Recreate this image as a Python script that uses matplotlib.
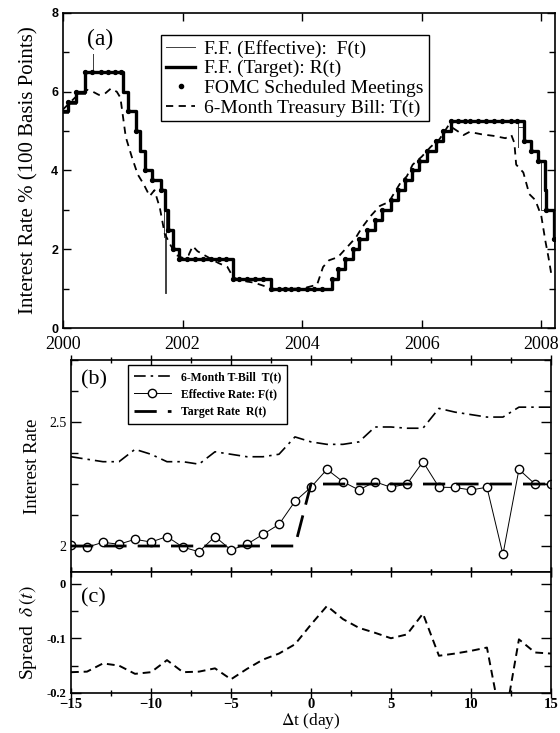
import numpy as np
import pandas as pd
import matplotlib
matplotlib.use('Agg')
import matplotlib.pyplot as plt
from matplotlib.lines import Line2D
from matplotlib.ticker import MultipleLocator

plt.rcParams['font.family'] = ['Liberation Serif', 'DejaVu Serif']
plt.rcParams['mathtext.fontset'] = 'stix'

# ---- panel (a): fed funds target, effective, FOMC meetings, 6-month T-bill
tgt_dates = ['2000-01-01', '2000-02-02', '2000-03-21', '2000-05-16', '2001-01-03',
             '2001-01-31', '2001-03-20', '2001-04-18', '2001-05-15', '2001-06-27',
             '2001-08-21', '2001-09-17', '2001-10-02', '2001-11-06', '2001-12-11',
             '2002-11-06', '2003-06-25', '2004-06-30', '2004-08-10', '2004-09-21',
             '2004-11-10', '2004-12-14', '2005-02-02', '2005-03-22', '2005-05-03',
             '2005-06-30', '2005-08-09', '2005-09-20', '2005-11-01', '2005-12-13',
             '2006-01-31', '2006-03-28', '2006-05-10', '2006-06-29', '2007-09-18',
             '2007-10-31', '2007-12-11', '2008-01-22', '2008-01-30', '2008-03-18',
             '2008-03-24']
tgt_vals = [5.50, 5.75, 6.00, 6.50, 6.00, 5.50, 5.00, 4.50, 4.00, 3.75,
            3.50, 3.00, 2.50, 2.00, 1.75, 1.25, 1.00, 1.25, 1.50, 1.75,
            2.00, 2.25, 2.50, 2.75, 3.00, 3.25, 3.50, 3.75, 4.00, 4.25,
            4.50, 4.75, 5.00, 5.25, 4.75, 4.50, 4.25, 3.50, 3.00, 2.25,
            2.25]

eff_dates = ['2000-01-01', '2000-02-02', '2000-03-21', '2000-05-16', '2000-06-30',
             '2000-07-03', '2001-01-03', '2001-01-31', '2001-03-20', '2001-04-18',
             '2001-05-15', '2001-06-27', '2001-08-21', '2001-09-12', '2001-09-17',
             '2001-09-19', '2001-09-21', '2001-10-02', '2001-11-06', '2001-12-11',
             '2002-11-06', '2003-06-25', '2004-06-30', '2004-08-10', '2004-09-21',
             '2004-11-10', '2004-12-14', '2005-02-02', '2005-03-22', '2005-05-03',
             '2005-06-30', '2005-08-09', '2005-09-20', '2005-11-01', '2005-12-13',
             '2006-01-31', '2006-03-28', '2006-05-10', '2006-06-29', '2007-08-10',
             '2007-08-14', '2007-09-18', '2007-10-31', '2007-12-11', '2008-01-02',
             '2008-01-22', '2008-01-30', '2008-03-18', '2008-03-24']
eff_vals = [5.45, 5.70, 5.95, 6.50, 6.95, 6.50, 6.00, 5.50, 5.00, 4.50,
            4.00, 3.75, 3.50, 2.30, 0.90, 2.40, 3.00, 2.50, 2.00, 1.75,
            1.25, 1.00, 1.25, 1.50, 1.75, 2.00, 2.25, 2.50, 2.75, 3.00,
            3.25, 3.50, 3.75, 4.00, 4.25, 4.50, 4.75, 5.00, 5.25, 4.60,
            5.10, 4.75, 4.50, 4.25, 3.00, 3.50, 3.00, 2.00, 2.00]

fomc_dates = ['2000-02-02', '2000-03-21', '2000-05-16', '2000-06-28', '2000-08-22',
              '2000-10-03', '2000-11-15', '2000-12-19', '2001-01-31', '2001-03-20',
              '2001-05-15', '2001-06-27', '2001-08-21', '2001-10-02', '2001-11-06',
              '2001-12-11', '2002-01-30', '2002-03-19', '2002-05-07', '2002-06-26',
              '2002-08-13', '2002-09-24', '2002-11-06', '2002-12-10', '2003-01-29',
              '2003-03-18', '2003-05-06', '2003-06-25', '2003-08-12', '2003-09-16',
              '2003-10-28', '2003-12-09', '2004-01-28', '2004-03-16', '2004-05-04',
              '2004-06-30', '2004-08-10', '2004-09-21', '2004-11-10', '2004-12-14',
              '2005-02-02', '2005-03-22', '2005-05-03', '2005-06-30', '2005-08-09',
              '2005-09-20', '2005-11-01', '2005-12-13', '2006-01-31', '2006-03-28',
              '2006-05-10', '2006-06-29', '2006-08-08', '2006-09-20', '2006-10-25',
              '2006-12-12', '2007-01-31', '2007-03-21', '2007-05-09', '2007-06-28',
              '2007-08-07', '2007-09-18', '2007-10-31', '2007-12-11', '2008-01-30',
              '2008-03-18']

tbill_t = [2000.00, 2000.10, 2000.20, 2000.30, 2000.40, 2000.50, 2000.60, 2000.70,
           2000.80, 2000.90, 2000.96, 2001.05, 2001.15, 2001.25, 2001.35, 2001.45,
           2001.53, 2001.62, 2001.70, 2001.80, 2001.90, 2002.00, 2002.10, 2002.17,
           2002.25, 2002.40, 2002.60, 2002.75, 2002.85, 2003.00, 2003.20, 2003.40,
           2003.50, 2003.70, 2004.00, 2004.25, 2004.35, 2004.45, 2004.60, 2004.75,
           2004.90, 2005.00, 2005.15, 2005.30, 2005.45, 2005.55, 2005.65, 2005.75,
           2005.85, 2006.00, 2006.15, 2006.30, 2006.45, 2006.60, 2006.70, 2006.80,
           2007.00, 2007.20, 2007.40, 2007.50, 2007.55, 2007.58, 2007.70, 2007.80,
           2007.90, 2008.00, 2008.07, 2008.12, 2008.17]
tbill_v = [5.55, 5.70, 5.85, 5.95, 6.05, 6.00, 5.92, 5.95,
           6.08, 6.00, 5.85, 4.85, 4.35, 3.90, 3.65, 3.35,
           3.50, 3.05, 2.40, 2.10, 1.85, 1.78, 1.85, 2.08,
           1.95, 1.82, 1.65, 1.55, 1.28, 1.20, 1.15, 1.05,
           0.95, 1.00, 1.00, 1.10, 1.55, 1.72, 1.80, 2.05,
           2.30, 2.55, 2.85, 3.10, 3.20, 3.45, 3.70, 3.85,
           4.15, 4.35, 4.60, 4.80, 5.15, 5.00, 4.90, 4.98,
           4.92, 4.88, 4.82, 4.90, 4.70, 4.15, 3.95, 3.40,
           3.25, 2.85, 2.20, 1.80, 1.35]

# ---- panels (b), (c): event window around rate changes
dt_days = np.arange(-15, 16)
tbill_ev = [2.36, 2.35, 2.34, 2.34, 2.39, 2.37, 2.34, 2.34, 2.33, 2.38, 2.37,
            2.36, 2.36, 2.37, 2.44, 2.42, 2.41, 2.41, 2.42, 2.48, 2.48, 2.475,
            2.475, 2.555, 2.54, 2.53, 2.52, 2.52, 2.56, 2.56, 2.56]
eff_ev = [2.004, 1.995, 2.015, 2.007, 2.027, 2.016, 2.038, 1.995, 1.977, 2.038,
          1.984, 2.007, 2.047, 2.087, 2.18, 2.237, 2.309, 2.259, 2.226, 2.259,
          2.237, 2.25, 2.34, 2.237, 2.236, 2.226, 2.237, 1.966, 2.309, 2.25, 2.25]
target_ev = [2.0] * 15 + [2.25] * 16
spread_ev = [-0.162, -0.161, -0.146, -0.150, -0.165, -0.162, -0.140, -0.162,
             -0.161, -0.155, -0.175, -0.156, -0.139, -0.128, -0.111, -0.075,
             -0.041, -0.065, -0.081, -0.090, -0.100, -0.093, -0.055, -0.132,
             -0.128, -0.123, -0.117, -0.270, -0.102, -0.126, -0.128]


def decyear(dates):
    d = pd.to_datetime(pd.Series(dates))
    ndays = np.where(d.dt.is_leap_year, 366, 365)
    return (d.dt.year + (d.dt.dayofyear - 1) / ndays).values


tgt_x = decyear(tgt_dates)
eff_x = decyear(eff_dates)
fomc_x = decyear(fomc_dates)
fomc_y = np.array(tgt_vals)[np.searchsorted(tgt_x, fomc_x, side='right') - 1]

fig = plt.figure(figsize=(5.6, 7.33), dpi=100)
ax1 = fig.add_axes([0.1125, 0.5525, 0.8786, 0.4298])
ax2 = fig.add_axes([0.1268, 0.2196, 0.857, 0.2892])
ax3 = fig.add_axes([0.1268, 0.0546, 0.857, 0.1650])

# panel (a)
ax1.plot(eff_x, eff_vals, drawstyle='steps-post', color='0.25', lw=0.7)
ax1.plot(tgt_x, tgt_vals, drawstyle='steps-post', color='black', lw=2.4)
ax1.plot(fomc_x, fomc_y, 'o', color='black', ms=2.8, ls='none')
ax1.plot(tbill_t, tbill_v, color='black', lw=1.3, ls=(0, (4, 3)))
ax1.set_xlim(2000, 2008.23)
ax1.set_ylim(0, 8)
ax1.xaxis.set_major_locator(MultipleLocator(2))
ax1.yaxis.set_major_locator(MultipleLocator(2))
ax1.yaxis.set_minor_locator(MultipleLocator(1))
ax1.tick_params(which='both', direction='in', top=True, right=True)
ax1.tick_params(which='major', length=6, width=1)
ax1.tick_params(which='minor', length=4, width=1)
ax1.tick_params(axis='x', labelsize=13, pad=6)
for lab in ax1.get_yticklabels():
    lab.set_family('Liberation Sans')
    lab.set_fontweight('bold')
    lab.set_fontsize(9)
ax1.set_ylabel('Interest Rate % (100 Basis Points)', fontsize=15, labelpad=9)
ax1.text(0.048, 0.95, '(a)', transform=ax1.transAxes, fontsize=17, va='top')
hdl_a = [Line2D([], [], color='0.25', lw=0.7),
         Line2D([], [], color='black', lw=2.4),
         Line2D([], [], color='black', marker='o', ms=3, ls='none'),
         Line2D([], [], color='black', lw=1.3, ls=(0, (4, 3)))]
lab_a = ['F.F. (Effective):  F(t)', 'F.F. (Target): R(t)',
         'FOMC Scheduled Meetings', '6-Month Treasury Bill: T(t)']
leg = ax1.legend(hdl_a, lab_a, loc='upper left', bbox_to_anchor=(0.2, 0.93),
                 fontsize=14, frameon=True, fancybox=False, edgecolor='black',
                 framealpha=1, handlelength=1.5, handletextpad=0.45,
                 labelspacing=0.1, borderpad=0.25, borderaxespad=0)
leg.get_frame().set_linewidth(1)

# panel (b)
ax2.plot(dt_days, tbill_ev, color='black', lw=1.2, ls=(0, (7, 3, 1.5, 3)))
ax2.plot(dt_days, eff_ev, color='black', lw=0.7, marker='o', ms=6,
         mfc='white', mec='black', mew=1)
ax2.plot(dt_days, target_ev, color='black', lw=2, ls=(0, (8, 4)))
ax2.set_xlim(-15, 15)
ax2.set_ylim(1.895, 2.75)
ax2.xaxis.set_major_locator(MultipleLocator(5))
ax2.xaxis.set_minor_locator(MultipleLocator(2.5))
ax2.yaxis.set_major_locator(MultipleLocator(0.5))
ax2.yaxis.set_minor_locator(MultipleLocator(0.125))
ax2.tick_params(which='both', direction='in', top=True, right=True)
ax2.tick_params(axis='x', which='both', direction='inout', labelbottom=False)
ax2.tick_params(which='major', length=7, width=1)
ax2.tick_params(which='minor', length=5, width=1)
ax2.tick_params(axis='y', labelsize=10)
ax2.set_yticks([2.0, 2.5])
ax2.set_yticklabels(['2', '2.5'])
ax2.set_ylabel('Interest Rate', fontsize=13.5, labelpad=6)
ax2.text(0.02, 0.95, '(b)', transform=ax2.transAxes, fontsize=16, va='top')
hdl_b = [Line2D([], [], color='black', lw=1.2, ls=(0, (7, 3, 1.5, 3))),
         Line2D([], [], color='black', lw=0.7, marker='o', ms=6, mfc='white',
                mec='black', markevery=[0, 1]),
         Line2D([], [], color='black', lw=2, ls=(0, (8, 4)))]
hdl_b[1].set_data([0, 1], [0, 0])
lab_b = ['6-Month T-Bill  T(t)', 'Effective Rate: F(t)', 'Target Rate  R(t)']
leg2 = ax2.legend(hdl_b, lab_b, loc='upper left', bbox_to_anchor=(0.118, 0.975),
                  prop={'size': 8.5, 'weight': 'bold'}, frameon=True,
                  fancybox=False, edgecolor='black', framealpha=1,
                  handlelength=3.2, handletextpad=0.8, labelspacing=0.45,
                  borderpad=0.5, borderaxespad=0)
leg2.get_frame().set_linewidth(1)

# panel (c)
ax3.plot(dt_days, spread_ev, color='black', lw=1.4, ls=(0, (4, 2.5)))
ax3.set_xlim(-15, 15)
ax3.set_ylim(-0.2, 0.021)
ax3.xaxis.set_major_locator(MultipleLocator(5))
ax3.xaxis.set_minor_locator(MultipleLocator(2.5))
ax3.yaxis.set_major_locator(MultipleLocator(0.1))
ax3.yaxis.set_minor_locator(MultipleLocator(0.05))
ax3.tick_params(which='both', direction='in', top=True, right=True)
ax3.tick_params(axis='x', which='both', direction='inout', pad=0)
ax3.tick_params(which='major', length=7, width=1)
ax3.tick_params(which='minor', length=5, width=1)
ax3.set_yticks([-0.2, -0.1, 0])
ax3.set_yticklabels(['-0.2', '-0.1', '0'])
for lab in ax3.get_xticklabels():
    lab.set_fontweight('bold')
    lab.set_fontsize(10.5)
for lab in ax3.get_yticklabels():
    lab.set_fontweight('bold')
    lab.set_fontsize(9)
ax3.set_ylabel(r'Spread  $\delta\,(t)$', fontsize=14, labelpad=5)
ax3.set_xlabel(r'$\Delta$t (day)', fontsize=12.5, labelpad=0)
ax3.text(0.02, 0.87, '(c)', transform=ax3.transAxes, fontsize=16, va='top')

for ax in (ax1, ax2, ax3):
    for sp in ax.spines.values():
        sp.set_linewidth(1.2)

fig.savefig('out.png', dpi=100)
